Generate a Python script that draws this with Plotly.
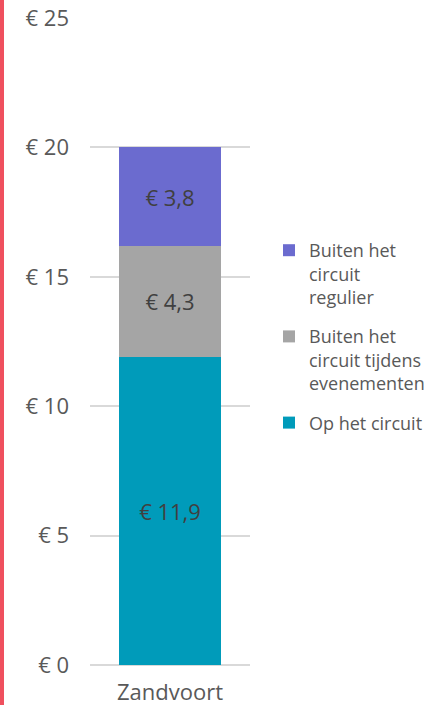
import plotly.graph_objects as go

categories = ["Zandvoort"]
series_names = ["Op het circuit", "Buiten het<br>circuit tijdens<br>evenementen", "Buiten het<br>circuit<br>regulier"]
series_values = [[11.9], [4.3], [3.8]]
series_labels = [["€ 11,9"], ["€ 4,3"], ["€ 3,8"]]
colors = ["#009BBA", "#A5A5A5", "#6B6BCF"]
tick_vals = [0, 5, 10, 15, 20, 25]
tick_text = ["€ 0", "€ 5", "€ 10", "€ 15", "€ 20", "€ 25"]

FONT = "Open Sans"
fig = go.Figure()
for i, (name, vals, labs, col) in enumerate(zip(series_names, series_values, series_labels, colors)):
    fig.add_trace(go.Bar(
        x=categories, y=vals, name=name, text=labs,
        marker=dict(color=col, line=dict(width=0)),
        textposition="inside", insidetextanchor="middle",
        textfont=dict(family=FONT, size=22, color="#404040"),
        hoverinfo="skip", legendgroup="g%d" % i, legendrank=10 - i,
    ))

L, R, T, B = 90, 178, 18, 40
W, H = 428, 705
pw, ph = W - L - R, H - T - B

fig.update_layout(
    barmode="stack", bargap=0.36,
    width=W, height=H,
    margin=dict(l=L, r=R, t=T, b=B, pad=0, autoexpand=False),
    paper_bgcolor="white", plot_bgcolor="white",
    font=dict(family=FONT, color="#595959"),
    xaxis=dict(showgrid=False, showline=False, ticks="", ticklabelstandoff=12,
               tickfont=dict(size=22, color="#595959")),
    yaxis=dict(range=[0, 25], tickvals=tick_vals, ticktext=tick_text,
               showgrid=True, gridcolor="#D9D9D9", gridwidth=1.5,
               zeroline=True, zerolinecolor="#D9D9D9", zerolinewidth=1.5,
               showline=False, ticks="", ticklabelstandoff=20,
               tickfont=dict(size=22, color="#595959")),
    legend=dict(x=(269 - L) / pw, xanchor="left", y=(H - B - 232) / ph, yanchor="top",
                traceorder="grouped", tracegroupgap=13, valign="top",
                font=dict(family=FONT, size=18, color="#595959"),
                itemwidth=30, bgcolor="rgba(0,0,0,0)"),
    showlegend=True,
    shapes=[dict(type="rect", xref="paper", yref="paper",
                 x0=(0 - L) / pw, x1=(4 - L) / pw,
                 y0=-B / ph, y1=(H - T) / ph + 0.01,
                 fillcolor="#EF505E", line=dict(width=0), layer="above")],
)

fig.write_html("out.html", config={"displayModeBar": False},
               post_script="document.body.style.margin='0';document.body.style.overflow='hidden';")
